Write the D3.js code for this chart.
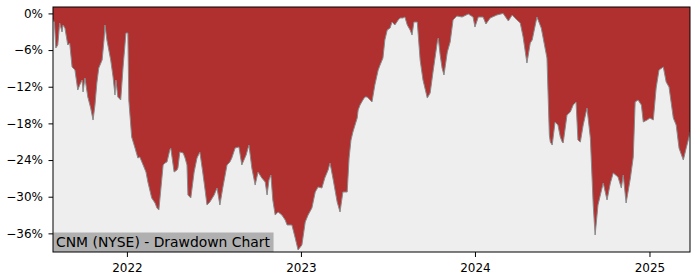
<!DOCTYPE html>
<html>
<head>
<meta charset="utf-8">
<script src="https://cdn.jsdelivr.net/npm/d3@7"></script>
<style>
  html, body { margin: 0; padding: 0; background: #ffffff; }
  svg { display: block; }
  text { font-family: "DejaVu Sans", sans-serif; }
</style>
</head>
<body>
<svg id="chart" width="700" height="280"></svg>
<script>
const title = "CNM (NYSE) - Drawdown Chart";

const dates = [
"2021-07-30","2021-08-02","2021-08-05","2021-08-09","2021-08-13","2021-08-18","2021-08-20","2021-08-24","2021-08-30",
"2021-09-03","2021-09-08","2021-09-14","2021-09-20","2021-09-24","2021-09-29","2021-10-01","2021-10-05","2021-10-11",
"2021-10-17","2021-10-22","2021-10-26","2021-10-30","2021-11-03","2021-11-10","2021-11-14","2021-11-16","2021-11-20",
"2021-11-24","2021-11-28","2021-12-03","2021-12-07","2021-12-09","2021-12-13","2021-12-19","2021-12-24","2021-12-30",
"2022-01-03","2022-01-05","2022-01-11","2022-01-18","2022-01-24","2022-01-28","2022-02-04","2022-02-10","2022-02-14",
"2022-02-18","2022-02-22","2022-03-01","2022-03-05","2022-03-09","2022-03-15","2022-03-18","2022-03-22","2022-03-26",
"2022-04-01","2022-04-03","2022-04-10","2022-04-16","2022-04-18","2022-04-22","2022-04-29","2022-05-03","2022-05-07",
"2022-05-09","2022-05-15","2022-05-22","2022-05-28","2022-06-03","2022-06-09","2022-06-14","2022-06-18","2022-06-24",
"2022-07-03","2022-07-09","2022-07-15","2022-07-21","2022-07-30","2022-08-05","2022-08-09","2022-08-16","2022-08-24",
"2022-08-30","2022-09-08","2022-09-14","2022-09-20","2022-09-27","2022-10-03","2022-10-11","2022-10-18","2022-10-22",
"2022-10-26","2022-10-30","2022-11-03","2022-11-08","2022-11-14","2022-11-22","2022-11-29","2022-12-03","2022-12-13",
"2022-12-20","2022-12-26","2023-01-03","2023-01-10","2023-01-16","2023-01-24","2023-01-31","2023-02-06","2023-02-14",
"2023-02-20","2023-02-27","2023-03-03","2023-03-09","2023-03-18","2023-03-24","2023-03-30","2023-04-08","2023-04-12",
"2023-04-16","2023-04-20","2023-04-29","2023-05-01","2023-05-05","2023-05-11","2023-05-15","2023-05-20","2023-05-26",
"2023-05-30","2023-06-05","2023-06-12","2023-06-16","2023-06-22","2023-06-26","2023-07-01","2023-07-07","2023-07-11",
"2023-07-17","2023-07-24","2023-07-28","2023-08-03","2023-08-07","2023-08-12","2023-08-18","2023-08-22","2023-08-26",
"2023-09-02","2023-09-08","2023-09-14","2023-09-23","2023-09-29","2023-10-05","2023-10-14","2023-10-16","2023-10-20",
"2023-10-24","2023-10-28","2023-11-04","2023-11-10","2023-11-16","2023-11-24","2023-12-05","2023-12-18","2023-12-28",
"2024-01-01","2024-01-08","2024-01-18","2024-01-24","2024-02-02","2024-02-16","2024-02-29","2024-03-11","2024-03-19",
"2024-03-29","2024-04-05","2024-04-11","2024-04-19","2024-04-26","2024-04-30","2024-05-10","2024-05-19","2024-05-27",
"2024-05-31","2024-06-05","2024-06-07","2024-06-11","2024-06-17","2024-06-23","2024-06-28","2024-07-02","2024-07-04",
"2024-07-12","2024-07-19","2024-07-25","2024-07-31","2024-08-04","2024-08-09","2024-08-15","2024-08-23","2024-08-30",
"2024-09-05","2024-09-09","2024-09-15","2024-09-26","2024-10-04","2024-10-11","2024-10-17","2024-10-27","2024-11-03",
"2024-11-07","2024-11-13","2024-11-22","2024-11-28","2024-12-02","2024-12-08","2024-12-15","2024-12-19","2024-12-27",
"2025-01-02","2025-01-09","2025-01-15","2025-01-21","2025-01-30","2025-02-05","2025-02-11","2025-02-20","2025-02-26",
"2025-03-04","2025-03-13","2025-03-19","2025-03-25","2025-03-27"
];

const drawdown = [
-1.0,-1.5,-5.66,-5.17,-1.57,-3.04,-1.90,-2.39,-5.17,
-4.84,-8.77,-9.26,-12.54,-11.72,-10.90,-12.86,-10.57,-13.68,
-15.48,-17.45,-14.99,-11.37,-8.94,-7.63,-4.35,-1.90,-4.35,
-5.99,-7.63,-10.41,-13.36,-10.90,-13.68,-14.17,-8.77,-3.21,
-3.21,-14.17,-20.23,-22.03,-23.67,-23.50,-24.81,-25.96,-27.59,
-28.90,-30.21,-31.03,-31.85,-32.18,-27.27,-24.81,-24.48,-24.32,
-22.36,-22.03,-25.96,-25.63,-25.30,-22.68,-22.85,-23.67,-24.81,
-29.72,-30.21,-25.96,-23.67,-22.68,-25.96,-28.90,-31.36,-30.87,
-29.72,-28.58,-31.36,-28.58,-24.81,-24.32,-23.67,-22.03,-21.87,
-24.81,-23.18,-21.54,-25.30,-28.09,-25.96,-26.94,-27.59,-29.72,
-27.27,-26.45,-30.54,-33.00,-32.50,-33.00,-33.81,-34.63,-34.63,
-36.76,-38.72,-37.91,-34.14,-33.00,-31.85,-29.23,-28.41,-28.58,
-26.94,-25.63,-24.48,-26.94,-30.87,-32.50,-29.23,-29.23,-23.67,
-20.72,-19.41,-17.12,-15.81,-14.99,-14.17,-13.68,-13.68,-14.17,
-14.50,-11.72,-9.26,-8.45,-7.30,-4.35,-2.72,-2.39,-1.41,
-1.90,-1.08,-0.75,-0.75,-0.59,-1.90,-2.72,-3.54,-1.41,
-1.41,-7.63,-10.90,-13.85,-13.03,-9.59,-4.68,-4.03,-6.81,
-8.94,-10.08,-6.32,-4.68,-1.08,-0.43,-0.59,-0.10,-0.59,
-2.23,-0.59,-0.59,-1.73,-0.75,-0.26,0.0,-1.24,-0.26,
-1.08,-1.57,-3.86,-8.12,-4.84,-4.35,-0.59,-2.39,-5.66,
-7.30,-19.90,-21.05,-21.54,-17.77,-18.27,-20.23,-21.05,-21.21,
-16.63,-16.14,-14.99,-14.50,-20.72,-21.05,-18.27,-15.48,-20.39,
-31.36,-36.27,-31.36,-27.76,-30.54,-27.76,-26.12,-26.78,-28.58,
-26.45,-31.03,-26.94,-23.50,-14.50,-14.17,-14.99,-17.77,-17.45,
-17.12,-17.45,-12.21,-9.26,-8.77,-11.23,-12.05,-17.12,-18.27,
-22.05,-23.99,-22.05,-20.23,-19.41
];

const yTickValues = [0, -6, -12, -18, -24, -30, -36];
const xTickYears = ["2022", "2023", "2024", "2025"];

const svg = d3.select("#chart");
const margin = { left: 53, top: 7, right: 10, bottom: 28 };
const W = 700, H = 280;
const pw = W - margin.left - margin.right;
const ph = H - margin.top - margin.bottom;

const parse = d3.timeParse("%Y-%m-%d");
const data = dates.map((d, i) => ({ date: parse(d), v: drawdown[i] }));

const x = d3.scaleTime()
  .domain(d3.extent(data, d => d.date))
  .range([0, pw]);
const y = d3.scaleLinear()
  .domain([-39.05, 1.05])
  .range([ph, 0]);

const g = svg.append("g").attr("transform", `translate(${margin.left},${margin.top})`);

g.append("rect").attr("x", 0).attr("y", 0).attr("width", pw).attr("height", ph).attr("fill", "#eeeeee");

const clipId = "plotclip";
svg.append("defs").append("clipPath").attr("id", clipId)
  .append("rect").attr("width", pw).attr("height", ph);

const plot = g.append("g").attr("clip-path", `url(#${clipId})`);

const area = d3.area()
  .x(d => x(d.date))
  .y0(0)
  .y1(d => y(d.v));

plot.append("path").datum(data)
  .attr("d", area)
  .attr("fill", "#b03030");

const line = d3.line().x(d => x(d.date)).y(d => y(d.v));
plot.append("path").datum(data)
  .attr("d", line)
  .attr("fill", "none")
  .attr("stroke", "#8a8a8a")
  .attr("stroke-width", 1);

// label box
const labelG = g.append("g");
const txt = labelG.append("text")
  .attr("x", 3)
  .attr("y", ph - 5)
  .attr("font-size", 13.9)
  .attr("fill", "#000")
  .text(title);
const bb = txt.node().getBBox();
labelG.insert("rect", "text")
  .attr("x", 0)
  .attr("y", ph - 19.5)
  .attr("width", bb.width + 6)
  .attr("height", 19.5)
  .attr("fill", "#b0b0b0");

// axes
const yAxis = d3.axisLeft(y)
  .tickValues(yTickValues)
  .tickSize(4.5)
  .tickPadding(5.5)
  .tickFormat(d => (d < 0 ? "\u2212" + Math.abs(d) : d) + "%");
const ya = g.append("g").call(yAxis);
ya.select(".domain").remove();
ya.selectAll("text").attr("font-size", 12).attr("fill", "#000").attr("font-family", "DejaVu Sans, sans-serif");
ya.selectAll("line").attr("stroke", "#000");

const xAxis = d3.axisBottom(x)
  .tickValues(xTickYears.map(s => parse(s + "-01-01")))
  .tickSize(5)
  .tickPadding(6)
  .tickFormat(d3.timeFormat("%Y"));
const xa = g.append("g").attr("transform", `translate(0,${ph})`).call(xAxis);
xa.select(".domain").remove();
xa.selectAll("text").attr("font-size", 12).attr("fill", "#000").attr("font-family", "DejaVu Sans, sans-serif");
xa.selectAll("line").attr("stroke", "#000");

// frame
g.append("rect").attr("x", 0).attr("y", 0).attr("width", pw).attr("height", ph)
  .attr("fill", "none").attr("stroke", "#000").attr("stroke-width", 1);
</script>
</body>
</html>
